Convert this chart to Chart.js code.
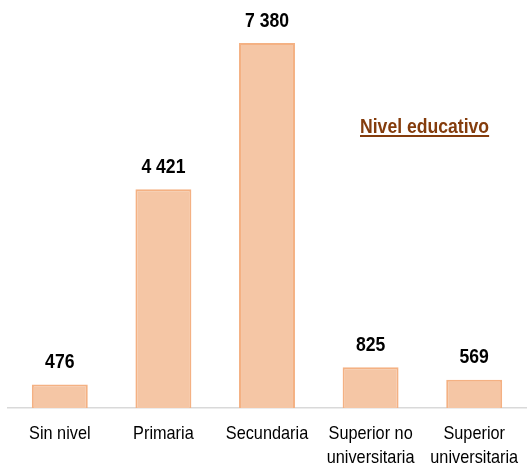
<!DOCTYPE html>
<html>
<head>
<meta charset="utf-8">
<script src="https://cdn.jsdelivr.net/npm/chart.js@4"></script>
<style>
  body { margin: 0; background: #fff; }
</style>
</head>
<body>
<canvas id="myChart" width="529" height="466"></canvas>
<script>
  // Población según nivel educativo
  const categories = [
    ["Sin nivel"],
    ["Primaria"],
    ["Secundaria"],
    ["Superior no", "universitaria"],
    ["Superior", "universitaria"],
  ];
  const values = [476, 4421, 7380, 825, 569];
  const titleText = "Nivel educativo";

  const FONT = "'Liberation Sans', Arial, sans-serif";
  const SQUEEZE = 0.88; // estrechar el texto (tipo Arial Narrow)

  function narrowText(ctx, txt, x, y) {
    ctx.save();
    ctx.translate(x, y);
    ctx.scale(SQUEEZE, 1);
    ctx.fillText(txt, 0, 0);
    ctx.restore();
    return ctx.measureText(txt).width * SQUEEZE;
  }

  // etiquetas de valor, etiquetas de categoría y título subrayado
  const labelsPlugin = {
    id: "barLabels",
    afterDatasetsDraw(chart) {
      const ctx = chart.ctx;
      const meta = chart.getDatasetMeta(0);
      const xScale = chart.scales.x;
      const bottom = chart.chartArea.bottom;
      ctx.save();

      ctx.fillStyle = "#000";
      ctx.font = "bold 20px " + FONT;
      ctx.textAlign = "center";
      ctx.textBaseline = "middle";
      meta.data.forEach((bar, i) => {
        const txt = values[i].toLocaleString("fr-FR").replace(/\s/g, " ");
        narrowText(ctx, txt, bar.x, bar.y - 22);
      });

      ctx.font = "18.5px " + FONT;
      categories.forEach((lines, i) => {
        const x = xScale.getPixelForValue(i);
        lines.forEach((line, j) => {
          narrowText(ctx, line, x, bottom + 26 + j * 24);
        });
      });

      ctx.fillStyle = "#843C0C";
      ctx.font = "bold 20px " + FONT;
      ctx.textAlign = "left";
      ctx.textBaseline = "alphabetic";
      const w = narrowText(ctx, titleText, 360, 133);
      ctx.fillRect(360, 135, w, 2);
      ctx.restore();
    },
  };

  const ctx = document.getElementById("myChart").getContext("2d");

  new Chart(ctx, {
    type: "bar",
    data: {
      labels: categories.map((c) => c.join(" ")),
      datasets: [
        {
          data: values,
          backgroundColor: "#F5C6A5",
          borderColor: "#F4B183",
          borderWidth: 2,
          barPercentage: 0.54,
          categoryPercentage: 1,
        },
      ],
    },
    options: {
      responsive: false,
      animation: false,
      layout: { padding: { left: 8, right: 3, top: 0, bottom: 50 } },
      plugins: {
        legend: { display: false },
        tooltip: { enabled: false },
      },
      scales: {
        x: {
          grid: { display: false },
          border: { color: "#D9D9D9", width: 1.5 },
          ticks: { display: false },
        },
        y: {
          display: false,
          min: 0,
          max: 8250,
        },
      },
    },
    plugins: [labelsPlugin],
  });
</script>
</body>
</html>
